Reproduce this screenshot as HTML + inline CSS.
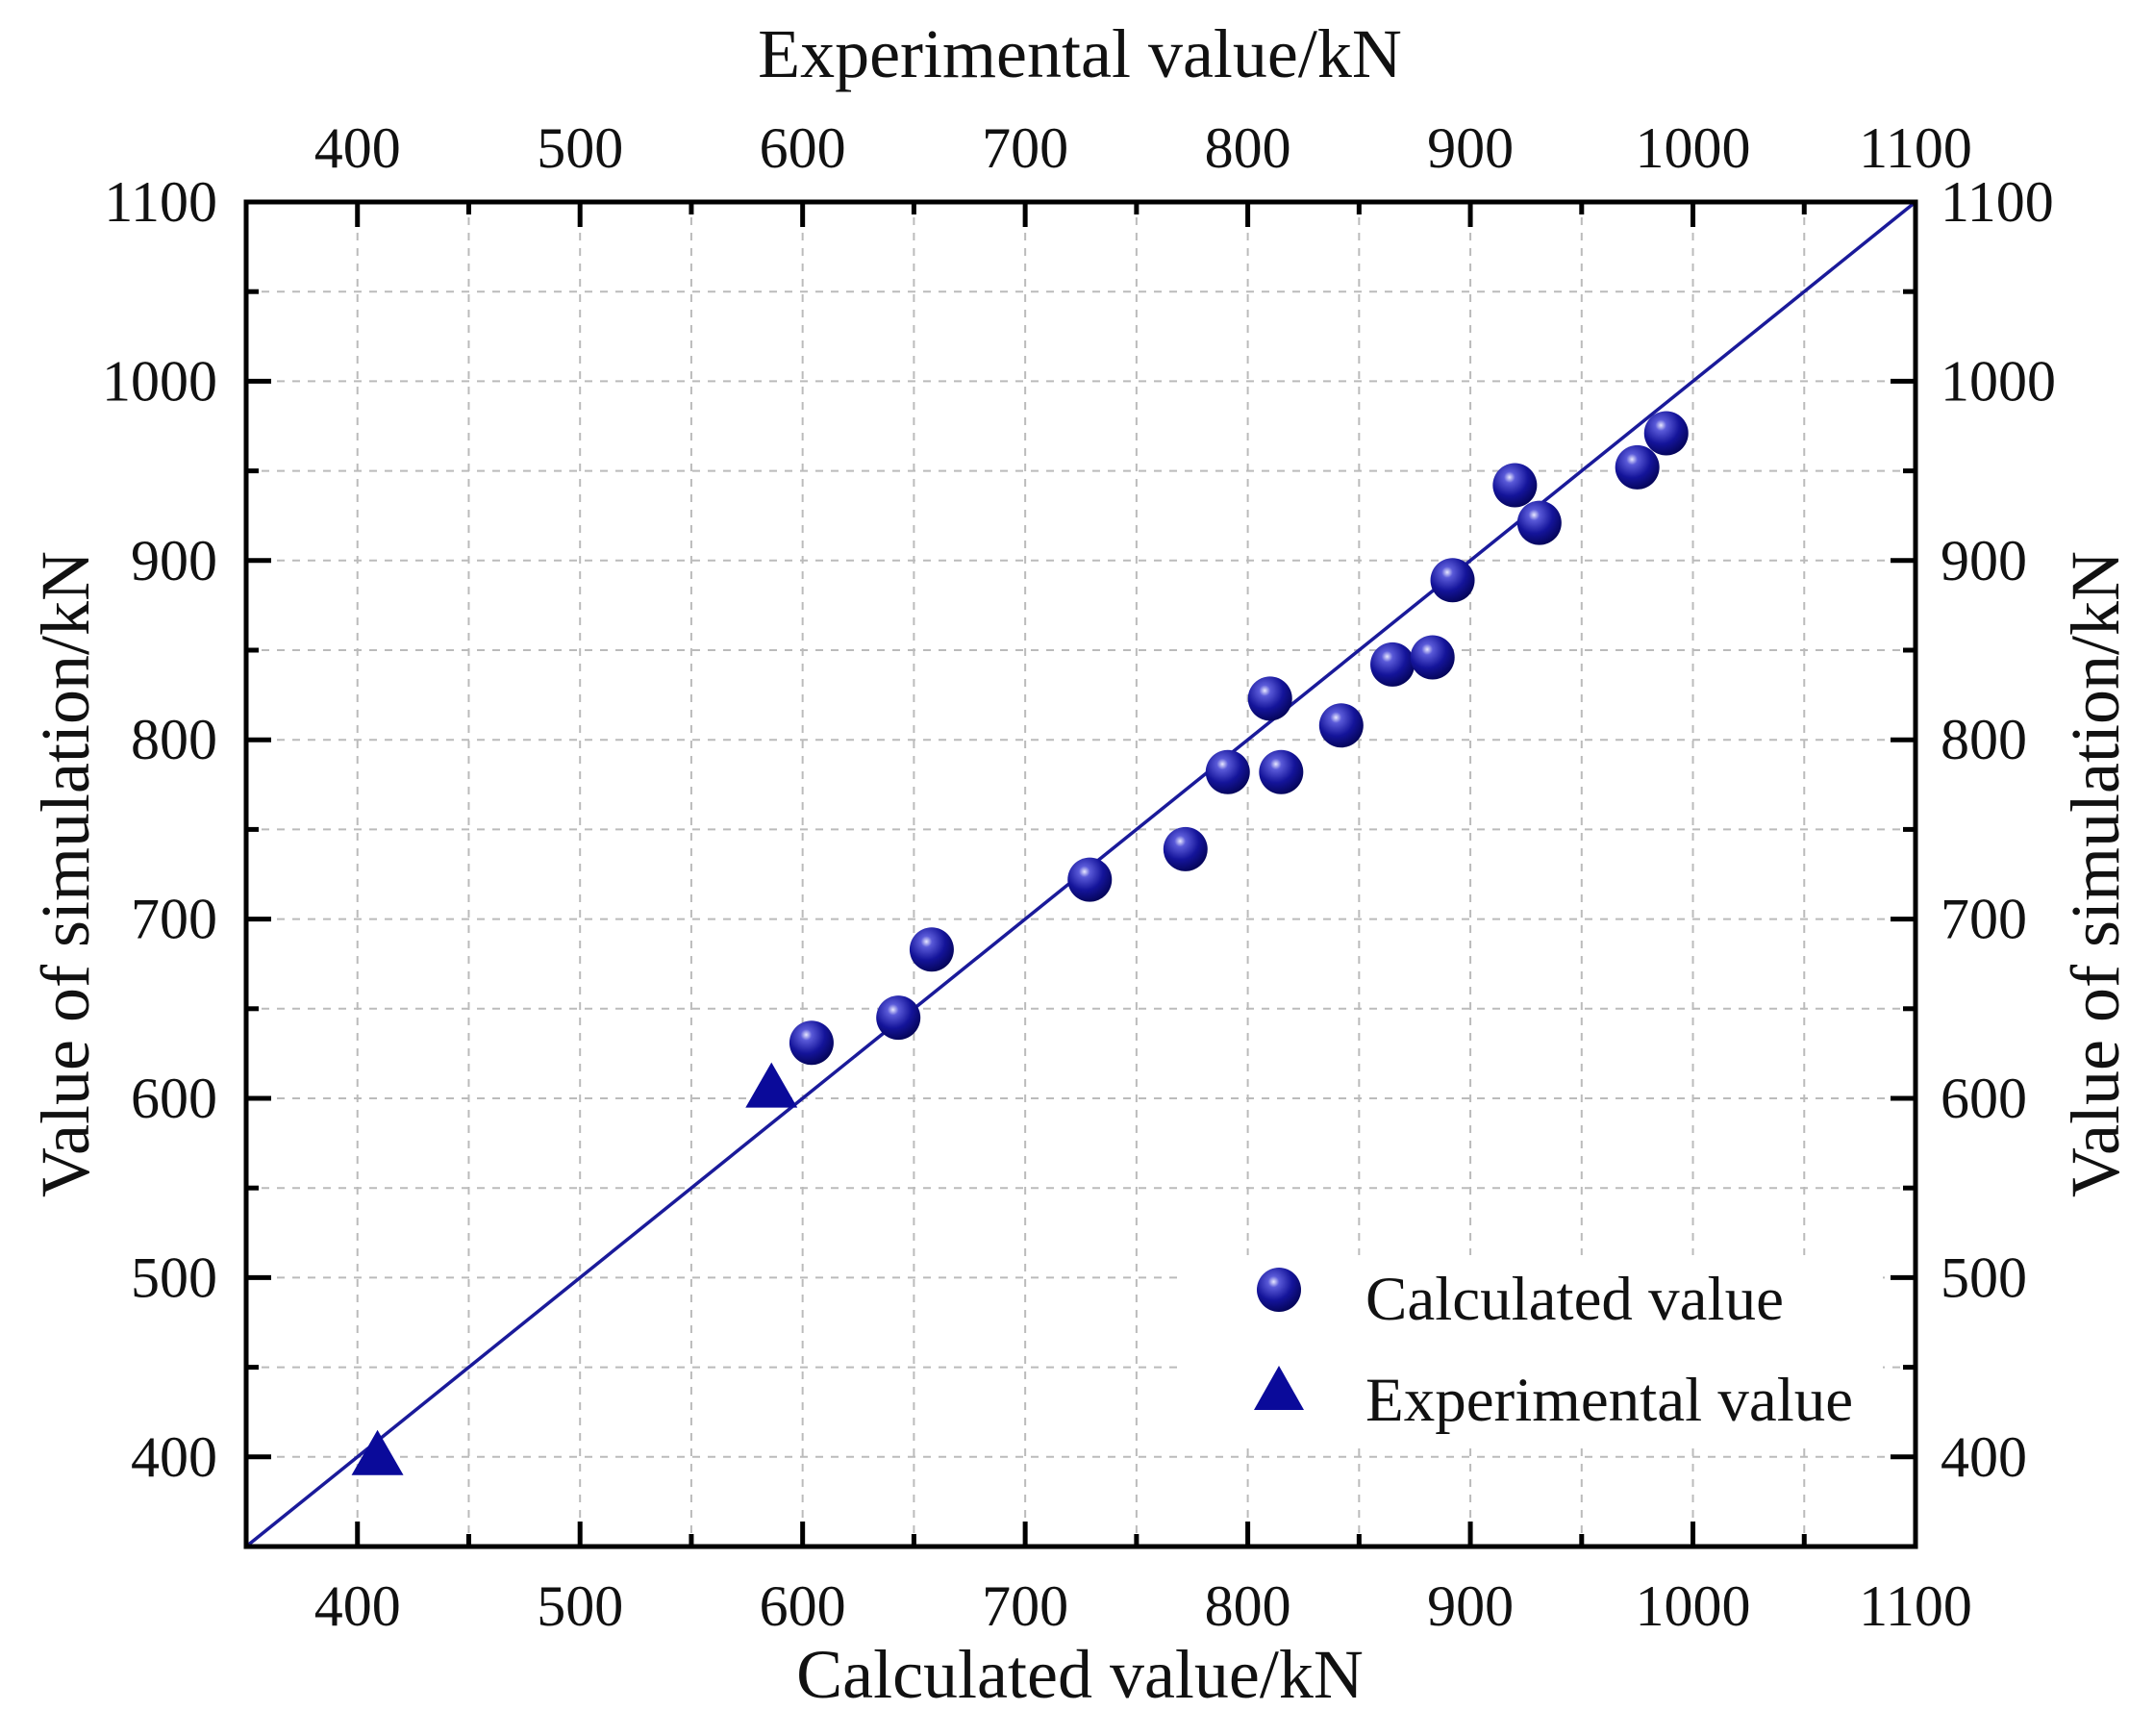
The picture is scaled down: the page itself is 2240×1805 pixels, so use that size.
<!DOCTYPE html>
<html><head><meta charset="utf-8"><style>
html,body{margin:0;padding:0;background:#fff;}
svg text{font-family:"Liberation Serif",serif;fill:#111;}
</style></head><body>
<svg id="chart" width="2240" height="1800" viewBox="0 0 2240 1800" xmlns="http://www.w3.org/2000/svg">
<defs>
<radialGradient id="ball" cx="0.38" cy="0.32" r="0.7">
<stop offset="0" stop-color="#e8e8ff"/>
<stop offset="0.18" stop-color="#5a5ad8"/>
<stop offset="0.6" stop-color="#14149a"/>
<stop offset="1" stop-color="#05055a"/>
</radialGradient>
</defs>
<g id="grid"></g>
<line id="fitline" stroke="#1a1a9a" stroke-width="3.5"/>
<g id="marks"></g>
<g id="legend">
<rect x="1226" y="1305" width="732" height="200" fill="#fff"/>
<circle cx="1330" cy="1341" r="23" fill="url(#ball)"/>
<text x="1420" y="1372" font-size="65">Calculated value</text>
<polygon points="1330,1420 1356,1466 1304,1466" fill="#0a0a9a"/>
<text x="1420" y="1477" font-size="65">Experimental value</text>
</g>
<rect x="256" y="210" width="1736" height="1398" fill="none" stroke="#000" stroke-width="5"/>
<g id="ticks"></g>
<text x="1123" y="1765" font-size="72" text-anchor="middle">Calculated value/kN</text>
<text x="1123" y="80" font-size="72" text-anchor="middle">Experimental value/kN</text>
<text transform="translate(92,909) rotate(-90)" font-size="72" text-anchor="middle">Value of simulation/kN</text>
<text transform="translate(2203,909) rotate(-90)" font-size="72" text-anchor="middle">Value of simulation/kN</text>
</svg>
<script>
const majorTicks = [400,500,600,700,800,900,1000,1100];
const calcX = [604,643,658,729,772,791,815,810,842,865,883,892,920,931,975,988];
const calcY = [631,645,683,722,739,782,782,823,808,842,846,889,942,921,952,971];
const expX = [586,409];
const expY = [605,400];
const lineEnds = [350,1100];

const L=256,R=1992,T=210,B=1608,MIN=350,MAX=1100;
const sx=v=>L+(v-MIN)/(MAX-MIN)*(R-L);
const sy=v=>B-(v-MIN)/(MAX-MIN)*(B-T);
const NS='http://www.w3.org/2000/svg';
function mk(tag,attrs,parent){const e=document.createElementNS(NS,tag);for(const k in attrs)e.setAttribute(k,attrs[k]);parent.appendChild(e);return e;}
const grid=document.getElementById('grid'),ticks=document.getElementById('ticks'),marks=document.getElementById('marks');
for(let v=MIN+50;v<MAX;v+=50){
  const g1=mk('line',{x1:sx(v),x2:sx(v),y1:T,y2:B,stroke:'#bbb','stroke-width':2,'stroke-dasharray':'8,8'},grid);
  
  
  const g2=mk('line',{x1:L,x2:R,y1:sy(v),y2:sy(v),stroke:'#bbb','stroke-width':2,'stroke-dasharray':'8,8'},grid);
  
  
}
for(let v=MIN+50;v<=MAX;v+=50){
  const major=majorTicks.includes(v);const len=major?26:13;
  const x=sx(v),y=sy(v);
  [[x,B,x,B-len],[x,T,x,T+len],[L,y,L+len,y],[R,y,R-len,y]].forEach(c=>{
    const t=mk('line',{x1:c[0],y1:c[1],x2:c[2],y2:c[3],stroke:'#000','stroke-width':5},ticks);
    
    
  });
}
majorTicks.forEach(v=>{
  const a=mk('text',{x:sx(v),y:1690,'font-size':60,'text-anchor':'middle'},ticks);a.textContent=v;
  
  
  const b=mk('text',{x:sx(v),y:174,'font-size':60,'text-anchor':'middle'},ticks);b.textContent=v;
  
  
  const c=mk('text',{x:226,y:sy(v)+20,'font-size':60,'text-anchor':'end'},ticks);c.textContent=v;
  
  
  const d=mk('text',{x:2018,y:sy(v)+20,'font-size':60,'text-anchor':'start'},ticks);d.textContent=v;
  
  
});
const ln=document.getElementById('fitline');
ln.setAttribute('x1',sx(lineEnds[0]));ln.setAttribute('y1',sy(lineEnds[0]));
ln.setAttribute('x2',sx(lineEnds[1]));ln.setAttribute('y2',sy(lineEnds[1]));
calcX.forEach((v,i)=>{
  const c=mk('circle',{cx:sx(v),cy:sy(calcY[i]),r:23,fill:'url(#ball)'},marks);
  
  
});
expX.forEach((v,i)=>{
  const x=sx(v),y=sy(expY[i]);
  const p=mk('polygon',{points:`${x},${y-28} ${x+27},${y+19} ${x-27},${y+19}`,fill:'#0a0a9a'},marks);
  
  
});
</script>
</body></html>
